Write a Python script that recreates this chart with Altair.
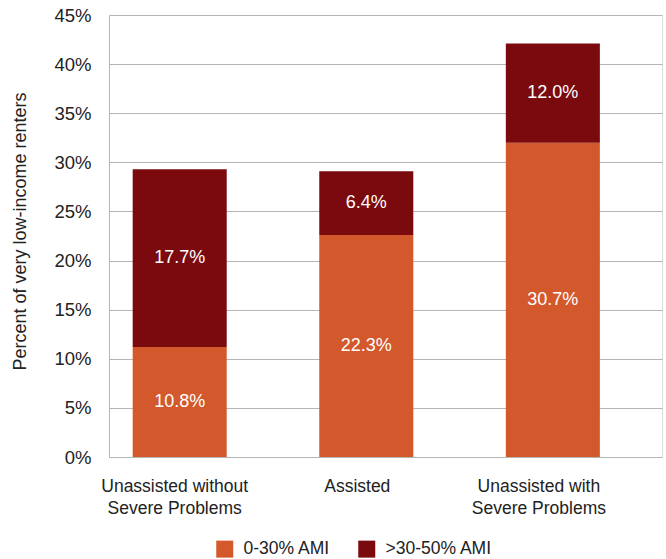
import altair as alt
import pandas as pd

categories = ["Unassisted without|Severe Problems", "Assisted", "Unassisted with|Severe Problems"]
series = ["0-30% AMI", ">30-50% AMI"]
low_values = [11.2, 22.6, 32.0]
high_values = [18.1, 6.5, 10.1]
low_labels = ["10.8%", "22.3%", "30.7%"]
high_labels = ["17.7%", "6.4%", "12.0%"]
y_ticks = [0, 5, 10, 15, 20, 25, 30, 35, 40, 45]
colors = ["#D3582C", "#7B0A0E"]

rows = []
for i, c in enumerate(categories):
    rows.append(dict(category=c, series=series[0], value=low_values[i], label=low_labels[i], order=0))
    rows.append(dict(category=c, series=series[1], value=high_values[i], label=high_labels[i], order=1))
df = pd.DataFrame(rows)

FONT = "Liberation Sans"
GRID = "#b5b5b5"

base = alt.Chart(df).transform_stack(
    stack="value", groupby=["category"], as_=["y0", "y1"],
    sort=[alt.SortField("order", order="ascending")]
).transform_calculate(mid="(datum.y0 + datum.y1) / 2")

x_label_offset = {
    "condition": [
        {"test": f"datum.value == '{categories[0]}'", "value": -5},
        {"test": f"datum.value == '{categories[2]}'", "value": -14},
    ],
    "value": -9,
}

x_enc = alt.X(
    "category:N", sort=categories,
    scale=alt.Scale(paddingInner=0.496, paddingOuter=0.23, align=0.276),
    axis=alt.Axis(title=None, labelAngle=0, ticks=False,
                  labelExpr="split(datum.value, '|')",
                  labelOffset=x_label_offset,
                  labelFontSize=17.5, labelLineHeight=22, labelPadding=20,
                  labelColor="#222222", domainColor=GRID, labelFont=FONT),
)

y_scale = alt.Scale(domain=[0, 45], nice=False)

bars = base.mark_bar().encode(
    x=x_enc,
    y=alt.Y("y0:Q", scale=y_scale,
            axis=alt.Axis(values=y_ticks, labelExpr="datum.value + '%'",
                          title="Percent of very low-income renters",
                          titleFontSize=18, titleFontWeight="normal", titleColor="#222222",
                          titleFont=FONT, titleX=-89, titleY=216, titleBaseline="middle",
                          titleAngle=270,
                          labelFontSize=18.5, labelColor="#222222", labelFont=FONT,
                          ticks=False, labelPadding=18, domainColor=GRID,
                          gridColor=GRID)),
    y2="y1:Q",
    color=alt.Color("series:N", sort=series,
                    scale=alt.Scale(domain=series, range=colors),
                    legend=alt.Legend(title=None, orient="none", legendX=107, legendY=525,
                                      direction="horizontal", symbolType="square",
                                      symbolSize=289, symbolStrokeWidth=0,
                                      labelFontSize=17.5, labelFont=FONT, labelColor="#222222",
                                      labelOffset=10, columnPadding=27)),
    order=alt.Order("order:Q"),
)

text = base.mark_text(color="white", fontSize=18, font=FONT, baseline="middle").encode(
    x=alt.X("category:N", sort=categories),
    y=alt.Y("mid:Q", scale=y_scale),
    text="label:N",
)

chart = alt.layer(bars, text).properties(
    width=553, height=442,
    autosize=alt.AutoSizeParams(type="none"),
    padding={"left": 109, "top": 15, "right": 4, "bottom": 102},
).configure_view(stroke=GRID, strokeWidth=1).configure(background="white")

chart.save("out.html", embed_options={"renderer": "svg", "actions": False})
